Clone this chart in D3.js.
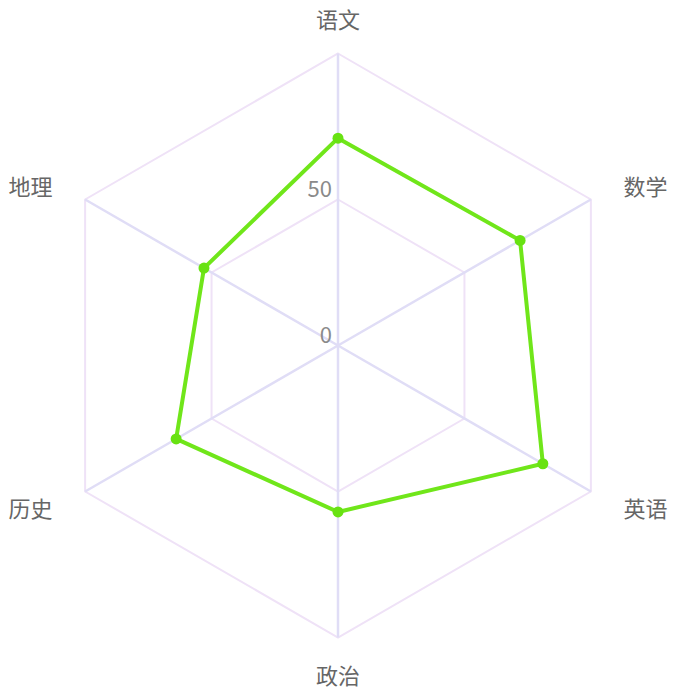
<!DOCTYPE html>
<html><head><meta charset="utf-8">
<script src="https://cdn.jsdelivr.net/npm/d3@7"></script>
<style>body{margin:0;background:#fff}</style>
</head><body>
<svg id="c" width="676" height="693"></svg>
<script>
const subjects = ["语文","数学","英语","政治","历史","地理"];
const scores = [71, 72, 81, 57, 64, 53];
const tickValues = [0, 50, 100];
const tickLabels = ["0", "50"];

const W = 676, H = 693, cx = 338, cy = 345.5, R = 292;
const svg = d3.select("#c");
const g = svg.append("g").attr("transform", `translate(${cx},${cy})`);
const rScale = d3.scaleLinear().domain([0, 100]).range([0, R]);
const aScale = d3.scalePoint().domain(subjects).range([0, 2*Math.PI*(subjects.length-1)/subjects.length]);
const pt = (s, v) => { const a = aScale(s); return [Math.sin(a)*rScale(v), -Math.cos(a)*rScale(v)]; };

// rings
tickValues.filter(v => v > 0).forEach(v => {
  g.append("path")
    .attr("d", d3.line()(subjects.map(s => pt(s, v))) + "Z")
    .attr("fill", "none").attr("stroke", "#efe2f7").attr("stroke-width", 2);
});
// radial axes
subjects.forEach(s => {
  const [x, y] = pt(s, 100);
  g.append("line").attr("x1", 0).attr("y1", 0).attr("x2", x).attr("y2", y)
    .attr("stroke", "#e0ddf6").attr("stroke-width", 2.5);
});
// tick labels
tickLabels.forEach((t, i) => {
  g.append("text").attr("x", -6).attr("y", -rScale(tickValues[i]) - 3)
    .attr("text-anchor", "end")
    .attr("font-family", "Noto Sans CJK SC, sans-serif").attr("font-size", 22)
    .attr("fill", "#8a8a8a").text(t);
});
// category labels
subjects.forEach(s => {
  const a = aScale(s);
  const [x, y] = pt(s, 100);
  const dx = Math.sin(a), dy = -Math.cos(a);
  const side = Math.abs(dx) > 0.1;
  const lx = x + (side ? dx*63 : 0);
  const ly = side ? y + dy*30 : y + dy*36;
  g.append("text").attr("x", lx).attr("y", ly)
    .attr("text-anchor", "middle").attr("dominant-baseline", "central")
    .attr("font-family", "Noto Sans CJK SC, sans-serif").attr("font-size", 22)
    .attr("fill", "#666").text(s);
});
// data line
const pts = subjects.map((s, i) => pt(s, scores[i]));
g.append("path").attr("d", d3.line()(pts) + "Z")
  .attr("fill", "none").attr("stroke", "#70e61a").attr("stroke-width", 4).attr("stroke-linejoin", "round");
g.selectAll("circle.p").data(pts).join("circle")
  .attr("cx", d => d[0]).attr("cy", d => d[1]).attr("r", 5.5).attr("fill", "#68e212");
</script>
</body></html>
